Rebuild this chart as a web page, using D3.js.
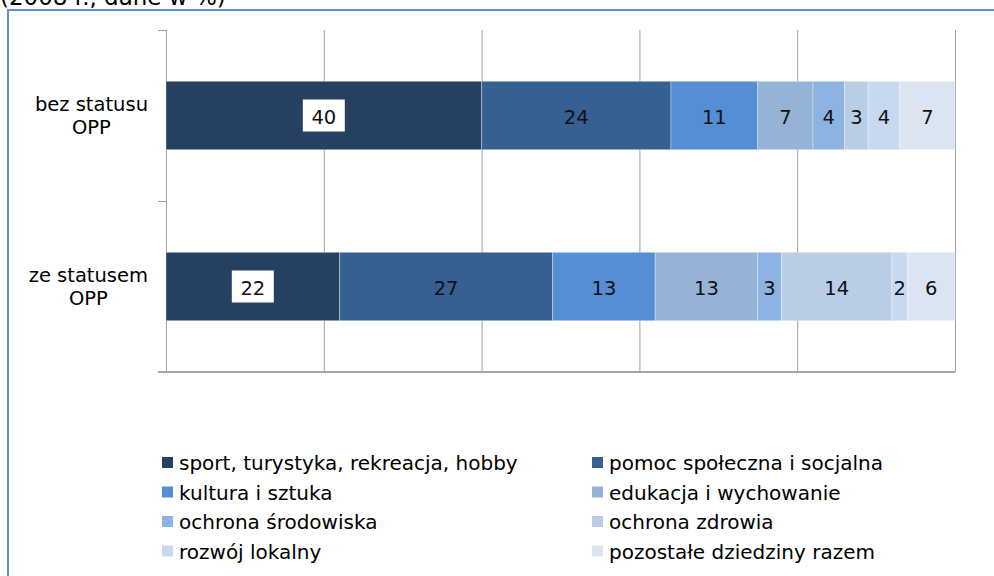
<!DOCTYPE html>
<html>
<head>
<meta charset="utf-8">
<script src="https://cdn.jsdelivr.net/npm/d3@7"></script>
<style>
  body { margin: 0; background: #fff; }
  svg { display: block; font-family: "DejaVu Sans", Verdana, sans-serif; }
</style>
</head>
<body>
<svg id="chart" width="994" height="576"></svg>
<script>
// data
const categories = ["bez statusu OPP", "ze statusem OPP"];
const categoryLines = [["bez statusu", "OPP"], ["ze statusem", "OPP"]];
const seriesNames = [
  "sport, turystyka, rekreacja, hobby",
  "pomoc społeczna i socjalna",
  "kultura i sztuka",
  "edukacja i wychowanie",
  "ochrona środowiska",
  "ochrona zdrowia",
  "rozwój lokalny",
  "pozostałe dziedziny razem"
];
const bezStatusu = [40, 24, 11, 7, 4, 3, 4, 7];
const zeStatusem = [22, 27, 13, 13, 3, 14, 2, 6];
const xTicks = [0, 20, 40, 60, 80, 100];
const colors = ["#254061", "#366092", "#558ED5", "#95B3D7", "#8DB3E2", "#B9CDE5", "#C6D9F0", "#DBE5F1"];

const svg = d3.select("#chart");

// table for the stack
const table = categories.map((c, i) => {
  const row = { category: c };
  const vals = i === 0 ? bezStatusu : zeStatusem;
  seriesNames.forEach((s, j) => row[s] = vals[j]);
  return row;
});

const plotLeft = 166, plotRight = 955, plotTop = 30, plotBottom = 372;

const x = d3.scaleLinear().domain([0, 100]).range([plotLeft, plotRight]);
const y = d3.scaleBand()
  .domain(categories)
  .range([plotTop, plotBottom])
  .paddingInner(0.6)
  .paddingOuter(0.3);

// title, cut off by the top edge as in the source
svg.append("text")
  .attr("x", 0)
  .attr("y", 5)
  .attr("font-size", 23)
  .attr("fill", "#000")
  .text("(2008 r., dane w %)");

// outer frame
svg.append("rect")
  .attr("x", 8).attr("y", 10)
  .attr("width", 1000).attr("height", 600)
  .attr("fill", "none")
  .attr("stroke", "#5B8FD8")
  .attr("stroke-width", 2);

// vertical gridlines
svg.append("g")
  .attr("transform", "translate(0," + plotBottom + ")")
  .call(d3.axisBottom(x).tickValues(xTicks).tickSize(-(plotBottom - plotTop)).tickFormat(""))
  .call(g => g.select(".domain").remove())
  .call(g => g.selectAll("line").attr("stroke", "#A0A0A0"));

// category axis with boundary ticks
const yEdge = d3.scaleLinear().domain([0, categories.length]).range([plotTop, plotBottom]);
svg.append("g")
  .attr("transform", "translate(" + plotLeft + ",0)")
  .call(d3.axisLeft(yEdge).tickValues(d3.range(categories.length + 1)).tickSize(8).tickSizeOuter(0).tickFormat(""))
  .call(g => g.select(".domain").attr("stroke", "#A0A0A0"))
  .call(g => g.selectAll("line").attr("stroke", "#A0A0A0"));

// bottom axis line
svg.append("line")
  .attr("x1", plotLeft - 8).attr("x2", plotRight)
  .attr("y1", plotBottom).attr("y2", plotBottom)
  .attr("stroke", "#A6A6A6")
  .attr("stroke-width", 2);

// stacked bars
const stack = d3.stack().keys(seriesNames)(table);

const layers = svg.selectAll("g.layer")
  .data(stack)
  .enter()
  .append("g")
  .attr("class", "layer")
  .attr("fill", (d, i) => colors[i]);

layers.selectAll("rect")
  .data(d => d)
  .enter()
  .append("rect")
  .attr("x", d => x(d[0]))
  .attr("y", d => y(d.data.category))
  .attr("width", d => x(d[1]) - x(d[0]))
  .attr("height", y.bandwidth())
  .attr("stroke", "rgba(255,255,255,0.35)")
  .attr("stroke-width", 1);

// value labels
layers.each(function (layer, i) {
  const g = d3.select(this);
  layer.forEach(d => {
    const cx = (x(d[0]) + x(d[1])) / 2;
    const cy = y(d.data.category) + y.bandwidth() / 2;
    if (i === 0) {
      g.append("rect")
        .attr("x", cx - 21).attr("y", cy - 16)
        .attr("width", 42).attr("height", 32)
        .attr("fill", "#fff");
    }
    g.append("text")
      .attr("x", cx)
      .attr("y", cy + 1)
      .attr("dy", "0.36em")
      .attr("text-anchor", "middle")
      .attr("font-size", 19.5)
      .attr("fill", "#111")
      .text(d[1] - d[0]);
  });
});

// category labels, wrapped and centred as a block ending at x=148
categoryLines.forEach((lines, i) => {
  const cy = y(categories[i]) + y.bandwidth() / 2;
  const g = svg.append("g");
  const texts = lines.map((t, k) => g.append("text")
    .attr("y", cy + (k - (lines.length - 1) / 2) * 23)
    .attr("dy", "0.36em")
    .attr("text-anchor", "middle")
    .attr("font-size", 19.5)
    .attr("fill", "#000")
    .text(t));
  const w = d3.max(texts, t => t.node().getComputedTextLength());
  texts.forEach(t => t.attr("x", 148 - w / 2));
});

// legend
const legend = svg.append("g");
seriesNames.forEach((s, i) => {
  const lx = i % 2 === 0 ? 162 : 592;
  const ly = 463 + Math.floor(i / 2) * 29.5;
  legend.append("rect")
    .attr("x", lx).attr("y", ly - 6)
    .attr("width", 11).attr("height", 11)
    .attr("fill", colors[i]);
  legend.append("text")
    .attr("x", lx + 17)
    .attr("y", ly)
    .attr("dy", "0.36em")
    .attr("font-size", 20)
    .attr("fill", "#000")
    .text(s);
});
</script>
</body>
</html>
